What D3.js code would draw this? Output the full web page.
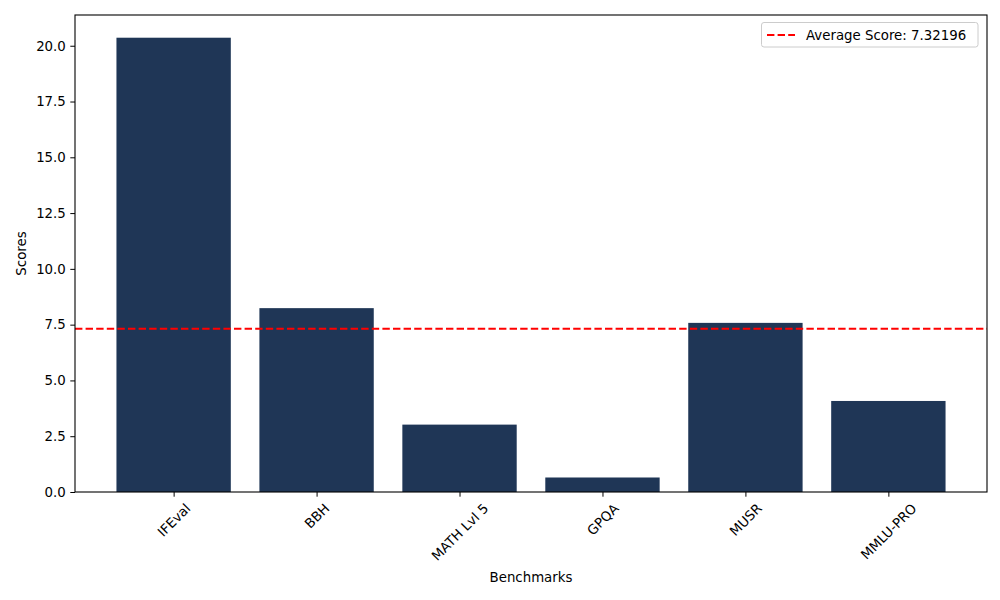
<!DOCTYPE html>
<html>
<head>
<meta charset="utf-8">
<script src="https://cdn.jsdelivr.net/npm/d3@7"></script>
<style>
  body { margin: 0; background: #fff; }
  svg { display: block; font-family: "DejaVu Sans", sans-serif; }
</style>
</head>
<body>
<svg id="chart" width="1000" height="600"></svg>
<script>
// benchmark names and scores
const benchmarks = ["IFEval", "BBH", "MATH Lvl 5", "GPQA", "MUSR", "MMLU-PRO"];
const scores = [20.36, 8.24, 3.02, 0.65, 7.58, 4.08];
const averageScore = 7.32196;
const yTicks = [0, 2.5, 5, 7.5, 10, 12.5, 15, 17.5, 20];

const margin = { top: 15, right: 13, bottom: 108, left: 75 };
const width = 1000;
const height = 600;
const barColor = "#1f3656";

const svg = d3.select("#chart");
const plotW = width - margin.left - margin.right;
const plotH = height - margin.top - margin.bottom;

// matplotlib style: bar width 0.8, 5% margins on both axes
const xMin = -0.4 - 0.05 * (benchmarks.length - 0.2);
const xMax = benchmarks.length - 0.6 + 0.05 * (benchmarks.length - 0.2);
const x = d3.scaleLinear().domain([xMin, xMax]).range([margin.left, margin.left + plotW]);
const y = d3.scaleLinear().domain([0, d3.max(scores) * 1.05]).range([margin.top + plotH, margin.top]);

const g = svg.append("g");

g.selectAll("rect.bar")
  .data(scores)
  .join("rect")
  .attr("class", "bar")
  .attr("x", (d, i) => x(i - 0.4))
  .attr("width", (d, i) => x(i + 0.4) - x(i - 0.4))
  .attr("y", d => y(d))
  .attr("height", d => y(0) - y(d))
  .attr("fill", barColor);

// average line across the axes
g.append("line")
  .attr("x1", margin.left)
  .attr("x2", margin.left + plotW)
  .attr("y1", y(averageScore))
  .attr("y2", y(averageScore))
  .attr("stroke", "#ff0000")
  .attr("stroke-width", 2)
  .attr("stroke-dasharray", "7.4,3.2");

// frame
g.append("rect")
  .attr("x", margin.left)
  .attr("y", margin.top)
  .attr("width", plotW)
  .attr("height", plotH)
  .attr("fill", "none")
  .attr("stroke", "#000")
  .attr("stroke-width", 1.1);

// y axis
const yAxis = d3.axisLeft(y)
  .tickValues(yTicks)
  .tickFormat(d3.format(".1f"))
  .tickSize(4.7)
  .tickPadding(4.5);

svg.append("g")
  .attr("transform", `translate(${margin.left},0)`)
  .call(yAxis)
  .call(s => s.select(".domain").remove())
  .call(s => s.selectAll("text").attr("font-size", 13.33).attr("fill", "#000")
    .attr("font-family", "DejaVu Sans"));

// x axis with rotated, centred labels
const xAxis = d3.axisBottom(x)
  .tickValues(d3.range(benchmarks.length))
  .tickFormat(i => benchmarks[i])
  .tickSize(4.7);

const xg = svg.append("g")
  .attr("transform", `translate(0,${margin.top + plotH})`)
  .call(xAxis)
  .call(s => s.select(".domain").remove());

xg.selectAll("text")
  .attr("font-size", 13.33)
  .attr("font-family", "DejaVu Sans")
  .attr("fill", "#000")
  .attr("dy", null)
  .attr("y", null)
  .attr("text-anchor", "middle")
  .attr("dominant-baseline", "central")
  .attr("transform", function () {
    const w = this.getComputedTextLength();
    const h = 13.33 * 1.0;
    const half = (w + h) * Math.SQRT1_2 / 2;
    return `translate(0,${9.4 + half}) rotate(-45)`;
  });

// axis titles
svg.append("text")
  .attr("x", margin.left + plotW / 2)
  .attr("y", 582)
  .attr("text-anchor", "middle")
  .attr("font-size", 13.33)
  .text("Benchmarks");

svg.append("text")
  .attr("transform", `translate(26,${margin.top + plotH / 2}) rotate(-90)`)
  .attr("text-anchor", "middle")
  .attr("font-size", 13.33)
  .text("Scores");

// legend
const legend = svg.append("g").attr("transform", "translate(761.5,22.5)");
legend.append("rect")
  .attr("width", 216.5)
  .attr("height", 24.5)
  .attr("rx", 2.5)
  .attr("fill", "#fff")
  .attr("fill-opacity", 0.8)
  .attr("stroke", "#cccccc")
  .attr("stroke-width", 1);
legend.append("line")
  .attr("x1", 5.5)
  .attr("x2", 33.5)
  .attr("y1", 12.5)
  .attr("y2", 12.5)
  .attr("stroke", "#ff0000")
  .attr("stroke-width", 2)
  .attr("stroke-dasharray", "7.4,3.2");
legend.append("text")
  .attr("x", 44.5)
  .attr("y", 12.5)
  .attr("dominant-baseline", "central")
  .attr("font-size", 13.33)
  .text(`Average Score: ${averageScore}`);
</script>
</body>
</html>
